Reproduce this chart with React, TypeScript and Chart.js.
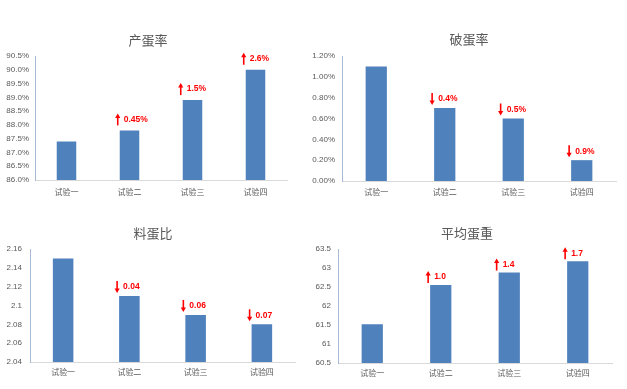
import React, { useEffect, useRef } from 'react';
import { Chart, registerables } from 'chart.js';

Chart.register(...registerables);

const categories = ['试验一', '试验二', '试验三', '试验四'];

// 产蛋率
const layRateTitle = '产蛋率';
const layRateValues = [87.4, 87.8, 88.9, 90.0];
const layRateNotes = ['', '0.45%', '1.5%', '2.6%'];
const layRateDirs = ['', 'up', 'up', 'up'];
const layRateTickLabels = ['86.0%', '86.5%', '87.0%', '87.5%', '88.0%', '88.5%', '89.0%', '89.5%', '90.0%', '90.5%'];
const layRateRange = [86.0, 90.5, 0.5];

// 破蛋率
const brokenTitle = '破蛋率';
const brokenValues = [1.1, 0.7, 0.6, 0.2];
const brokenNotes = ['', '0.4%', '0.5%', '0.9%'];
const brokenDirs = ['', 'down', 'down', 'down'];
const brokenTickLabels = ['0.00%', '0.20%', '0.40%', '0.60%', '0.80%', '1.00%', '1.20%'];
const brokenRange = [0, 1.2, 0.2];

// 料蛋比
const feedTitle = '料蛋比';
const feedValues = [2.15, 2.11, 2.09, 2.08];
const feedNotes = ['', '0.04', '0.06', '0.07'];
const feedDirs = ['', 'down', 'down', 'down'];
const feedTickLabels = ['2.04', '2.06', '2.08', '2.1', '2.12', '2.14', '2.16'];
const feedRange = [2.04, 2.16, 0.02];

// 平均蛋重
const weightTitle = '平均蛋重';
const weightValues = [61.52, 62.55, 62.88, 63.18];
const weightNotes = ['', '1.0', '1.4', '1.7'];
const weightDirs = ['', 'up', 'up', 'up'];
const weightTickLabels = ['60.5', '61', '61.5', '62', '62.5', '63', '63.5'];
const weightRange = [60.5, 63.5, 0.5];

type Spec = {
  title: string;
  values: number[];
  notes: string[];
  dirs: string[];
  tickLabels: string[];
  range: number[];
  left: number;
  top: number;
  width: number;
  height: number;
  padTop: number;
  padRight: number;
  yWidth: number;
  xHeight: number;
  titleX: number;
  titleY: number;
  yPad: number;
  xPad: number;
  noteOffset: number;
};

const GRAY = '#595959';
const BAR = '#4F81BD';
const RED = '#FF0000';

function makeTitlePlugin(spec: Spec) {
  return {
    id: 'customTitle',
    afterDraw(chart: any) {
      const ctx = chart.ctx;
      ctx.save();
      ctx.fillStyle = GRAY;
      ctx.font = '13px "Noto Sans CJK SC", sans-serif';
      ctx.textAlign = 'center';
      ctx.textBaseline = 'middle';
      ctx.fillText(spec.title, spec.titleX, spec.titleY);
      ctx.restore();
    },
  };
}

function makeNotesPlugin(spec: Spec) {
  return {
    id: 'notes',
    afterDatasetsDraw(chart: any) {
      const ctx = chart.ctx;
      const meta = chart.getDatasetMeta(0);
      meta.data.forEach((bar: any, i: number) => {
        const text = spec.notes[i];
        if (!text) return;
        const leftX = bar.x - bar.width / 2;
        const cy = bar.y - spec.noteOffset;
        const ax = leftX - 2;
        ctx.save();
        ctx.strokeStyle = RED;
        ctx.fillStyle = RED;
        ctx.lineWidth = 1.6;
        const top = cy - 6;
        const bottom = cy + 6;
        ctx.beginPath();
        if (spec.dirs[i] === 'up') {
          ctx.moveTo(ax, bottom);
          ctx.lineTo(ax, top + 3);
          ctx.stroke();
          ctx.beginPath();
          ctx.moveTo(ax, top);
          ctx.lineTo(ax - 2.6, top + 4.5);
          ctx.lineTo(ax + 2.6, top + 4.5);
          ctx.closePath();
          ctx.fill();
        } else {
          ctx.moveTo(ax, top);
          ctx.lineTo(ax, bottom - 3);
          ctx.stroke();
          ctx.beginPath();
          ctx.moveTo(ax, bottom);
          ctx.lineTo(ax - 2.6, bottom - 4.5);
          ctx.lineTo(ax + 2.6, bottom - 4.5);
          ctx.closePath();
          ctx.fill();
        }
        ctx.font = 'bold 8.5px "Liberation Sans", Arial, sans-serif';
        ctx.textAlign = 'left';
        ctx.textBaseline = 'middle';
        ctx.fillText(text, leftX + 4, cy);
        ctx.restore();
      });
    },
  };
}

function ChartBox({ spec }: { spec: Spec }) {
  const ref = useRef<HTMLCanvasElement | null>(null);
  useEffect(() => {
    if (!ref.current) return;
    const [min, max, step] = spec.range;
    const chart = new Chart(ref.current, {
      type: 'bar',
      data: {
        labels: categories,
        datasets: [
          {
            data: spec.values,
            backgroundColor: BAR,
            borderWidth: 0,
            categoryPercentage: 1,
            barPercentage: 0.31,
          },
        ],
      },
      options: {
        animation: false,
        responsive: false,
        devicePixelRatio: 1,
        layout: { padding: { left: 0, right: spec.padRight, top: spec.padTop, bottom: 0 } },
        plugins: {
          legend: { display: false },
          tooltip: { enabled: false },
          title: { display: false },
        },
        scales: {
          x: {
            grid: { display: false, drawTicks: false },
            border: { display: true, color: '#D9D9D9', width: 1 },
            ticks: {
              color: GRAY,
              padding: spec.xPad,
              font: { family: '"Noto Sans CJK SC", sans-serif', size: 8 },
            },
            afterFit: (s: any) => {
              s.height = spec.xHeight;
            },
          },
          y: {
            min,
            max,
            grid: { display: false, drawTicks: false },
            border: { display: true, color: '#A6BAD6', width: 1 },
            ticks: {
              stepSize: step,
              autoSkip: false,
              color: GRAY,
              padding: spec.yPad,
              font: { family: '"Liberation Sans", Arial, sans-serif', size: 8 },
              callback: (v: any) => spec.tickLabels[Math.round((Number(v) - min) / step)] ?? '',
            },
            afterFit: (s: any) => {
              s.width = spec.yWidth;
            },
          },
        },
      } as any,
      plugins: [makeNotesPlugin(spec), makeTitlePlugin(spec)],
    });
    return () => chart.destroy();
  }, [spec]);
  return (
    <canvas
      ref={ref}
      width={spec.width}
      height={spec.height}
      style={{
        position: 'absolute',
        left: spec.left,
        top: spec.top,
        width: spec.width,
        height: spec.height,
      }}
    />
  );
}

const specs: Spec[] = [
  {
    title: layRateTitle, values: layRateValues, notes: layRateNotes, dirs: layRateDirs,
    tickLabels: layRateTickLabels, range: layRateRange,
    left: 0, top: 24, width: 300, height: 180,
    padTop: 32, padRight: 13, yWidth: 35, xHeight: 24,
    titleX: 148, titleY: 16, yPad: 6, xPad: 7, noteOffset: 11,
  },
  {
    title: brokenTitle, values: brokenValues, notes: brokenNotes, dirs: brokenDirs,
    tickLabels: brokenTickLabels, range: brokenRange,
    left: 305, top: 24, width: 322, height: 180,
    padTop: 32, padRight: 11, yWidth: 37, xHeight: 23,
    titleX: 164, titleY: 15, yPad: 7, xPad: 6, noteOffset: 9,
  },
  {
    title: feedTitle, values: feedValues, notes: feedNotes, dirs: feedDirs,
    tickLabels: feedTickLabels, range: feedRange,
    left: 0, top: 218, width: 305, height: 171,
    padTop: 31, padRight: 10, yWidth: 30, xHeight: 27,
    titleX: 153, titleY: 15, yPad: 8, xPad: 5, noteOffset: 9,
  },
  {
    title: weightTitle, values: weightValues, notes: weightNotes, dirs: weightDirs,
    tickLabels: weightTickLabels, range: weightRange,
    left: 305, top: 218, width: 322, height: 171,
    padTop: 31, padRight: 15, yWidth: 33, xHeight: 26,
    titleX: 162, titleY: 15, yPad: 7, xPad: 5, noteOffset: 8,
  },
];

export default function App() {
  return (
    <div
      style={{
        position: 'absolute',
        left: 0,
        top: 0,
        width: 627,
        height: 389,
        background: '#ffffff',
        overflow: 'hidden',
      }}
    >
      {specs.map((s, i) => (
        <ChartBox key={i} spec={s} />
      ))}
    </div>
  );
}
